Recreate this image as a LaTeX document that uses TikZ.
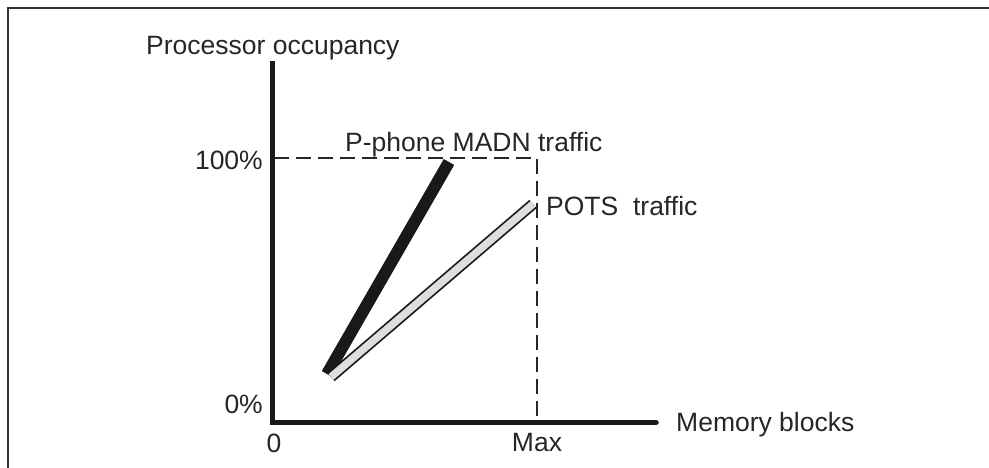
\documentclass[tikz,border=0pt]{standalone}
\usepackage{fontspec}
\setmainfont{Liberation Sans}
\usetikzlibrary{calc}
\begin{document}
\begin{tikzpicture}[x=1pt,y=-1pt,
  lbl/.style={inner sep=0pt,font=\fontsize{26.5}{30}\selectfont,text=black!85},
  axis/.style={line width=5.5pt,black!90},
  guide/.style={line width=2pt,black!85,dash pattern=on 15pt off 7pt},
  frameline/.style={line width=1.6pt,black!80}]
\useasboundingbox (0,0) rectangle (989,468);
% frame (top and left edges)
\draw[frameline] (8,468) -- (8,8) -- (989,8);
% axes
\coordinate (top) at (272.5,61);
\coordinate (orig) at (272.5,422.5);
\coordinate (xend) at (656,422.5);
\draw[axis] (top) -- (orig) -- (xend);
\draw[axis,line cap=round] ($(orig)+(100,0)$) -- (xend);
% guide lines at 100% and Max
\coordinate (full) at (274,158);
\coordinate (corner) at (537,158);
\coordinate (maxpt) at (537,422);
\draw[guide] (full) -- (corner) -- (maxpt);
% P-phone MADN traffic bar
\coordinate (pa) at (327,374);
\coordinate (pb) at (449,162);
\draw[line width=12pt,black!90] (pa) -- (pb);
% POTS traffic bar
\coordinate (qa) at (331,377);
\coordinate (qb) at (533,204);
\draw[line width=11pt,black!90] (qa) -- (qb);
\draw[line width=7.5pt,black!13] (qa) -- (qb);
% labels
\node[lbl,anchor=west] (ylab) at (146,48) {Processor occupancy};
\node[lbl,anchor=east] (hund) at (263,160) {100\%};
\node[lbl,anchor=east] (zero) at (263,404) {0\%};
\node[lbl] (xzero) at (274,443) {0};
\node[lbl] (xmax) at (537,443) {Max};
\node[lbl,anchor=west] (xlab) at (676,425) {Memory blocks};
\node[lbl,anchor=west] (madn) at (345,145) {P-phone MADN traffic};
\node[lbl,anchor=west] (pots) at (546,206) {POTS\ \ traffic};
\end{tikzpicture}
\end{document}
